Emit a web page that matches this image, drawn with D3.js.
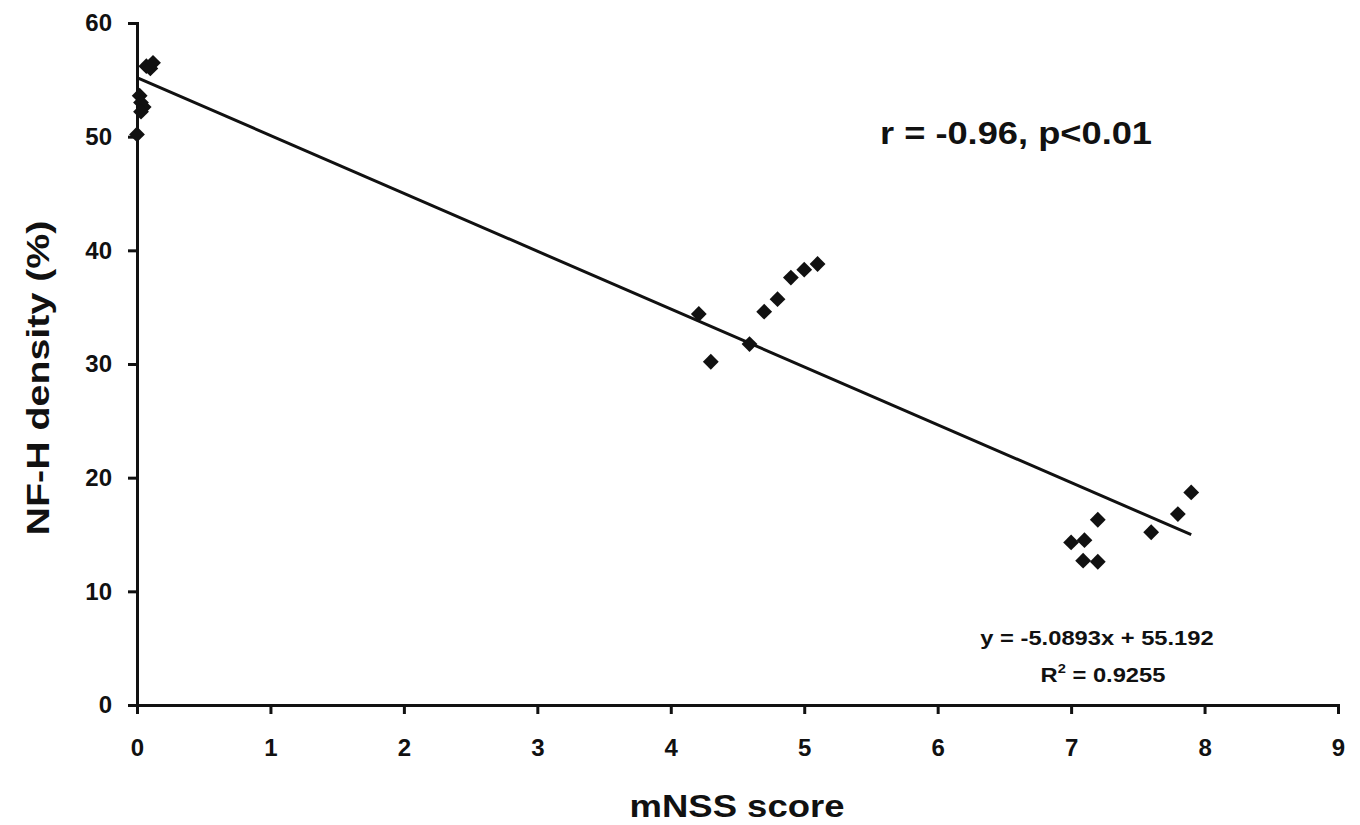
<!DOCTYPE html>
<html>
<head>
<meta charset="utf-8">
<script src="https://cdn.jsdelivr.net/npm/d3@7"></script>
<style>
  body { margin: 0; background: #fff; }
  text { font-family: "Liberation Sans", Arial, sans-serif; font-weight: bold; fill: #111; }
</style>
</head>
<body>
<svg id="chart" width="1360" height="825"></svg>
<script>
// mNSS score vs NF-H density
var mnss = [0, 0.02, 0.03, 0.05, 0.03, 0.07, 0.1, 0.12,
  4.21, 4.3, 4.59, 4.7, 4.8, 4.9, 5.0, 5.1,
  7.0, 7.1, 7.09, 7.2, 7.2, 7.6, 7.8, 7.9]
var nfh = [50.2, 53.6, 53.0, 52.6, 52.2, 56.2, 56.0, 56.5,
  34.4, 30.2, 31.75, 34.6, 35.7, 37.6, 38.3, 38.8,
  14.3, 14.5, 12.7, 12.6, 16.3, 15.2, 16.8, 18.7]
var xTicks = [0, 1, 2, 3, 4, 5, 6, 7, 8, 9]
var yTicks = [0, 10, 20, 30, 40, 50, 60]
var slope = -5.0893
var intercept = 55.192
var fitRange = [0, 7.9]

var svg = d3.select('#chart')
  , x = d3.scaleLinear().domain([0, 9]).range([137, 1338])
  , y = d3.scaleLinear().domain([0, 60]).range([705, 23])

//axes
var xAxis = svg.append('g')
  .attr('transform', 'translate(0,' + y(0) + ')')
  .call(d3.axisBottom(x).tickValues(xTicks).tickSize(9).tickSizeOuter(9).tickPadding(12))
var yAxis = svg.append('g')
  .attr('transform', 'translate(' + x(0) + ',0)')
  .call(d3.axisLeft(y).tickValues(yTicks).tickSize(9).tickSizeOuter(9).tickPadding(16))

;[xAxis, yAxis].forEach(function (a) {
  a.select('.domain').attr('stroke', '#111').attr('stroke-width', 3)
  a.selectAll('.tick line').attr('stroke', '#111').attr('stroke-width', 3)
  a.selectAll('.tick text').style('font-size', '24px').style('font-weight', 'bold')
    .style('font-family', '"Liberation Sans", Arial, sans-serif').attr('fill', '#111')
})
xAxis.selectAll('.tick text').attr('dy', '1.25em')

//trend line
svg.append('line')
  .attr('x1', x(fitRange[0])).attr('y1', y(slope * fitRange[0] + intercept))
  .attr('x2', x(fitRange[1])).attr('y2', y(slope * fitRange[1] + intercept))
  .attr('stroke', '#111').attr('stroke-width', 3)

//points
var diamond = d3.symbol().type(d3.symbolSquare).size(125)
svg.append('g').selectAll('path')
  .data(mnss)
  .enter()
  .append('path')
  .attr('d', diamond)
  .attr('transform', function (d, i) {
    return 'translate(' + x(d) + ',' + y(nfh[i]) + ') rotate(45)'
  })
  .attr('fill', '#111')

//labels (the original text is a bit wider than the font, so stretch it)
function label (cx, cy, size, sx, str, rot) {
  return svg.append('text')
    .attr('transform', 'translate(' + cx + ',' + cy + ')' + (rot ? ' rotate(' + rot + ')' : '') + ' scale(' + sx + ',1)')
    .attr('text-anchor', 'middle')
    .style('font-size', size + 'px')
    .text(str)
}

label(737, 817, 32, 1.14, 'mNSS score')
label(49, 378, 32, 1.23, 'NF-H density (%)', -90)
label(1016, 144, 31, 1.17, 'r = -0.96, p<0.01')
label(1097, 645, 21, 1.13, 'y = -5.0893x + 55.192')

var r2 = label(1103, 682, 21, 1.13, '')
r2.append('tspan').text('R')
r2.append('tspan').attr('dy', -9).style('font-size', '13px').text('2')
r2.append('tspan').attr('dy', 9).text(' = 0.9255')
</script>
</body>
</html>
